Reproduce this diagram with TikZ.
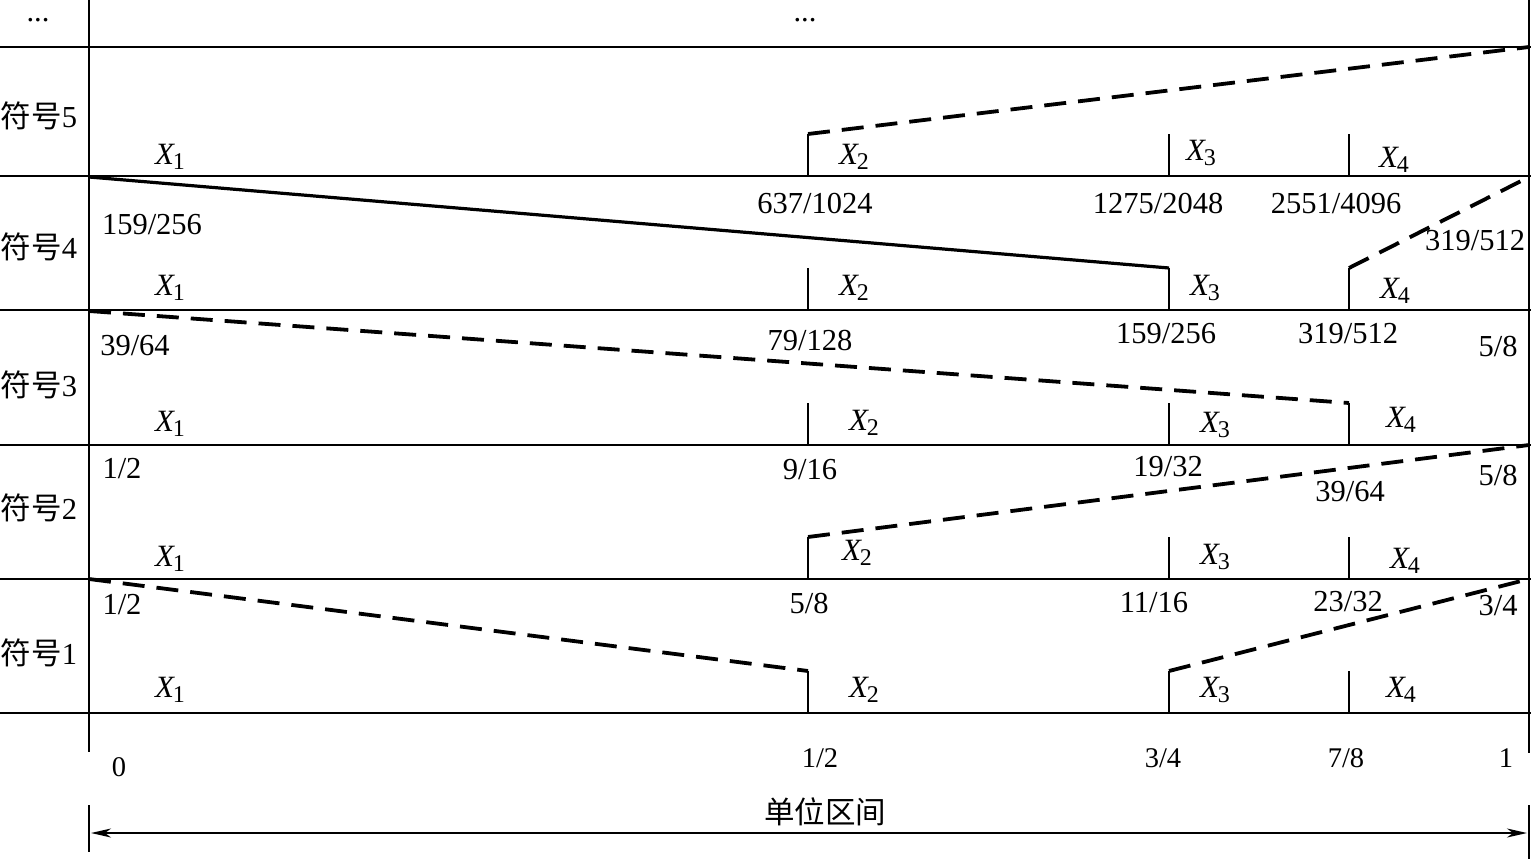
\documentclass[tikz,border=0pt]{standalone}
\usepackage{fontspec}
\setmainfont{Liberation Serif}
\newfontfamily\cjk{Noto Sans CJK SC}
\usetikzlibrary{arrows.meta}
\newcommand\Xs[1]{{\itshape X}\kern-1pt\raisebox{-0.35ex}{\fontsize{24}{24}\selectfont #1}}
\tikzset{
  grid/.style={line width=2pt},
  tickline/.style={line width=2pt},
  dashline/.style={line width=3.8pt, dash pattern=on 22pt off 12pt},
  solidline/.style={line width=3.2pt},
  num/.style={inner sep=0pt, font=\fontsize{30.5}{33}\selectfont},
  xl/.style={inner sep=0pt, font=\fontsize{31}{34}\selectfont},
  rowl/.style={inner sep=0pt, font=\fontsize{30.5}{33}\selectfont},
  bot/.style={inner sep=0pt, font=\fontsize{28.5}{30}\selectfont},
}
\begin{document}
\begin{tikzpicture}[x=1pt,y=-1pt]
\useasboundingbox (0,0) rectangle (1531,859);
% horizontal lines
\foreach \yy in {47,176,310,445,579,713}{
  \draw[grid] (0,\yy) -- (1531,\yy);
}
% vertical border lines
\draw[grid] (89,0) -- (89,752);
\draw[grid] (89,805) -- (89,852);
\draw[grid] (1529,0) -- (1529,753);
\draw[grid] (1529,805) -- (1529,859);
% ticks per row
\foreach \yb in {176,310,445,579,713}{
  \foreach \xx in {808,1169,1349}{
    \draw[tickline] (\xx,\yb) -- (\xx,\yb-42);
  }
}
% coordinates
\coordinate (r1s) at (89,579);  \coordinate (r1a) at (808,671);
\coordinate (r1b) at (1169,671); \coordinate (r1e) at (1529,579);
\coordinate (r2a) at (808,537);  \coordinate (r2e) at (1529,445);
\coordinate (r3s) at (89,311);   \coordinate (r3a) at (1349,403);
\coordinate (r4s) at (89,177);   \coordinate (r4a) at (1169,268);
\coordinate (r4b) at (1349,268); \coordinate (r4e) at (1529,177);
\coordinate (r5a) at (808,134);  \coordinate (r5e) at (1529,47);
% sloped lines
\draw[dashline] (r1s) -- (r1a);
\draw[dashline] (r1b) -- (r1e);
\draw[dashline] (r2a) -- (r2e);
\draw[dashline] (r3s) -- (r3a);
\draw[solidline] (r4s) -- (r4a);
\draw[dashline] (r4b) -- (r4e);
\draw[dashline] (r5a) -- (r5e);
% top dots
\node[num] (d1) at (38,20) {...};
\node[num] (d2) at (805,20) {...};
% row labels
\node[rowl] (s5) at (39,116) {{\cjk 符号}5};
\node[rowl] (s4) at (39,247) {{\cjk 符号}4};
\node[rowl] (s3) at (39,385) {{\cjk 符号}3};
\node[rowl] (s2) at (39,508) {{\cjk 符号}2};
\node[rowl] (s1) at (39,653) {{\cjk 符号}1};
% row 5
\node[xl] (x51) at (170,157) {\Xs1};
\node[xl] (x52) at (854,157) {\Xs2};
\node[xl] (x53) at (1201,153) {\Xs3};
\node[xl] (x54) at (1394,160) {\Xs4};
% row 4
\node[num] (n41) at (152,225) {159/256};
\node[num] (n42) at (815,204) {637/1024};
\node[num] (n43) at (1158,204) {1275/2048};
\node[num] (n44) at (1336,204) {2551/4096};
\node[num] (n45) at (1475,241) {319/512};
\node[xl] (x41) at (170,288) {\Xs1};
\node[xl] (x42) at (854,288) {\Xs2};
\node[xl] (x43) at (1205,288) {\Xs3};
\node[xl] (x44) at (1395,291) {\Xs4};
% row 3
\node[num] (n31) at (135,346) {39/64};
\node[num] (n32) at (810,341) {79/128};
\node[num] (n33) at (1166,334) {159/256};
\node[num] (n34) at (1348,334) {319/512};
\node[num] (n35) at (1498,347) {5/8};
\node[xl] (x31) at (170,424) {\Xs1};
\node[xl] (x32) at (864,423) {\Xs2};
\node[xl] (x33) at (1215,425) {\Xs3};
\node[xl] (x34) at (1401,420) {\Xs4};
% row 2
\node[num] (n21) at (122,469) {1/2};
\node[num] (n22) at (810,470) {9/16};
\node[num] (n23) at (1168,467) {19/32};
\node[num] (n24) at (1350,492) {39/64};
\node[num] (n25) at (1498,476) {5/8};
\node[xl] (x21) at (170,559) {\Xs1};
\node[xl] (x22) at (857,553) {\Xs2};
\node[xl] (x23) at (1215,557) {\Xs3};
\node[xl] (x24) at (1405,561) {\Xs4};
% row 1
\node[num] (n11) at (122,605) {1/2};
\node[num] (n12) at (809,604) {5/8};
\node[num] (n13) at (1154,603) {11/16};
\node[num] (n14) at (1348,602) {23/32};
\node[num] (n15) at (1498,606) {3/4};
\node[xl] (x11) at (170,690) {\Xs1};
\node[xl] (x12) at (864,690) {\Xs2};
\node[xl] (x13) at (1215,690) {\Xs3};
\node[xl] (x14) at (1401,690) {\Xs4};
% bottom axis labels
\node[bot] (b0) at (119,767) {0};
\node[bot] (b1) at (820,758) {1/2};
\node[bot] (b2) at (1163,758) {3/4};
\node[bot] (b3) at (1346,758) {7/8};
\node[bot] (b4) at (1506,758) {1};
\node[rowl] (unit) at (825,812) {\cjk 单位区间};
% double arrow
\coordinate (aL) at (91,833);
\coordinate (aR) at (1527,833);
\draw[line width=1.8pt, {Stealth[length=20pt,width=9pt,inset=6pt]}-{Stealth[length=20pt,width=9pt,inset=6pt]}] (aL) -- (aR);
\end{tikzpicture}
\end{document}
